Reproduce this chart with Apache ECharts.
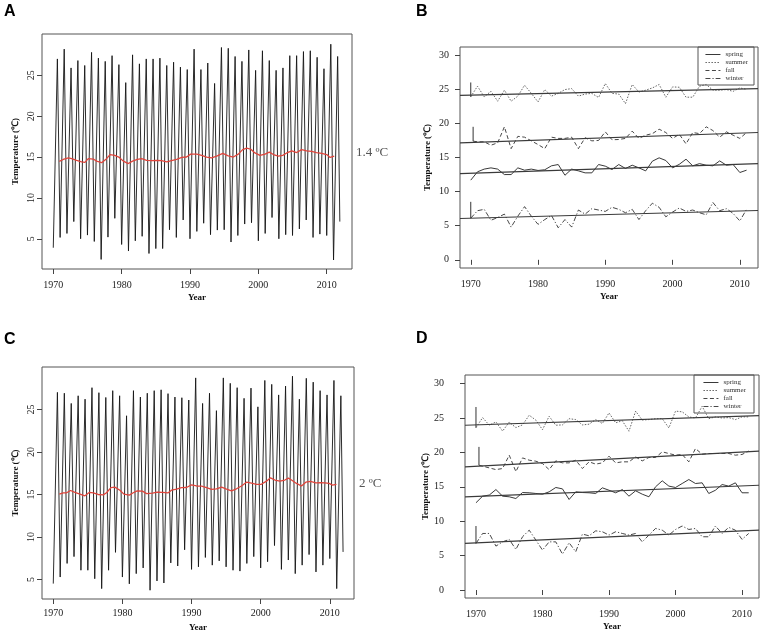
<!DOCTYPE html>
<html>
<head>
<meta charset="utf-8">
<script src="https://cdn.jsdelivr.net/npm/echarts@6/dist/echarts.min.js"></script>
<style>
html,body{margin:0;padding:0;background:#fff;}
#chart{width:763px;height:634px;}
</style>
</head>
<body>
<div id="chart"></div>
<script>
// ---------- DATA ----------
const years = [];
for (let y = 1970; y <= 2011; y++) years.push(y);
const decadeTicks = [1970, 1980, 1990, 2000, 2010];
const tempTicksAC = [5, 10, 15, 20, 25];
const tempTicksBD = [0, 5, 10, 15, 20, 25, 30];
const seasonNames = ['spring', 'summer', 'fall', 'winter'];

// Panel A: monthly series, yearly winter troughs (Jan) and summer peaks
const troughA = [3.9,5.16,5.65,7.1,5.0,5.45,4.67,2.47,5.2,7.5,4.3,3.5,4.75,5.3,3.2,3.8,3.8,6.1,5.16,7.3,5.0,5.9,6.9,5.5,6.06,6.1,4.6,5.4,6.8,6.96,4.75,5.65,7.6,5.0,5.5,5.4,6.2,7.3,5.16,5.57,5.4,2.4];
const peakA = [27.0,28.2,25.9,26.8,26.2,27.8,27.1,26.7,27.4,26.3,24.1,27.5,26.4,27.0,27.0,27.1,26.2,26.6,26.0,25.7,28.2,25.7,26.5,24.0,28.4,28.3,27.3,26.7,28.1,25.6,28.0,26.8,25.6,25.9,27.4,27.4,27.9,28.0,27.2,25.8,28.8,27.3];
const endA = 7.1;
// Panel A: 12-month moving average (red)
const maYearsA = [1970.88,1971.46,1972.2,1972.68,1973.41,1974.15,1974.63,1975.12,1975.85,1976.34,1977.07,1977.8,1978.3,1979.0,1979.66,1980.24,1980.98,1981.6,1982.3,1982.93,1983.66,1984.4,1985.1,1985.85,1986.6,1987.3,1988.05,1988.8,1989.5,1990.1,1991.0,1991.7,1992.44,1993.17,1993.9,1994.8,1995.6,1996.34,1997.07,1997.7,1998.3,1998.9,1999.5,2000.24,2000.98,2001.6,2002.2,2002.93,2003.56,2004.15,2004.9,2005.6,2006.34,2007.07,2007.8,2008.5,2009.27,2010.0,2010.5,2011.1];
const maValsA = [14.47,14.7,14.9,14.8,14.6,14.4,14.35,14.8,14.75,14.5,14.3,14.8,15.3,15.2,14.95,14.5,14.2,14.5,14.7,14.8,14.6,14.55,14.6,14.55,14.4,14.55,14.7,14.95,15.0,15.35,15.35,15.2,15.0,14.9,15.1,15.45,15.15,15.0,15.35,15.9,16.1,15.95,15.5,15.2,15.35,15.6,15.3,15.1,15.2,15.5,15.75,15.55,15.9,15.75,15.7,15.55,15.45,15.3,14.95,15.1];

// Panel C
const troughC = [4.53,5.3,6.9,7.7,6.1,6.1,5.1,3.94,6.1,8.2,5.3,4.5,5.7,6.37,3.75,4.84,4.6,6.96,6.6,8.5,6.2,6.5,7.6,6.7,7.2,6.5,6.1,6.0,6.9,7.7,6.37,7.1,9.0,6.2,7.3,5.7,6.7,7.94,5.9,6.7,7.47,3.94];
const peakC = [27.0,26.9,25.7,26.6,26.2,27.55,26.96,26.4,27.2,26.6,24.25,27.2,26.45,26.9,27.2,27.3,26.85,26.45,26.37,26.1,28.7,25.7,26.9,24.85,28.7,28.06,27.55,26.3,27.5,25.3,28.4,27.94,26.7,27.74,28.9,26.2,28.65,28.2,27.2,26.7,28.4,26.6];
const endC = 8.25;
const maYearsC = [1970.87,1971.45,1971.93,1972.5,1973.13,1973.86,1974.58,1975.2,1975.78,1976.5,1977.23,1977.7,1978.34,1978.9,1979.64,1980.22,1981.0,1981.57,1982.14,1982.9,1983.5,1984.36,1985.04,1985.8,1986.63,1987.1,1987.83,1988.55,1989.28,1990.0,1990.72,1991.45,1992.17,1992.9,1993.6,1994.34,1995.06,1995.78,1996.5,1997.23,1997.95,1998.67,1999.4,2000.1,2000.84,2001.42,2002.05,2002.77,2003.5,2004.0,2004.46,2005.18,2005.9,2006.53,2007.2,2007.98,2008.65,2009.28,2009.9,2010.39,2010.96];
const maValsC = [15.04,15.2,15.2,15.47,15.24,15.04,14.84,15.24,15.2,15.0,14.96,15.2,15.8,15.86,15.5,15.04,14.92,15.2,15.43,15.4,15.1,15.16,15.27,15.24,15.2,15.5,15.63,15.8,15.82,16.14,16.0,15.98,15.8,15.6,15.67,15.86,15.63,15.43,15.67,16.0,16.45,16.33,16.2,16.2,16.57,16.96,16.7,16.57,16.7,16.92,16.7,16.3,16.0,16.45,16.53,16.37,16.4,16.37,16.3,16.1,16.2];

// Panel B: seasonal means
const springB = [11.68,12.9,13.3,13.48,13.3,12.5,12.5,13.48,13.14,13.3,13.1,13.2,13.78,13.97,12.4,13.3,13.04,12.75,12.75,13.97,13.73,13.24,13.97,13.39,13.87,13.48,13.04,14.46,14.95,14.56,13.48,14.0,14.75,13.78,14.1,13.87,13.78,14.5,13.87,13.97,12.8,13.14];
const summerB = [23.9,25.45,23.9,24.7,23.25,24.87,23.25,24.0,25.6,24.4,23.15,24.96,24.0,24.4,24.96,25.1,24.0,24.3,24.4,23.8,25.84,24.4,24.3,22.9,25.7,24.6,24.87,25.2,25.7,23.84,25.35,25.3,23.84,23.84,25.45,25.7,24.87,24.87,24.96,24.7,25.2,25.0];
const fallB = [17.4,17.3,17.3,16.8,17.15,19.5,16.3,18.1,17.98,17.44,16.9,16.3,17.98,17.8,17.8,17.98,16.3,17.9,17.44,17.5,18.76,17.6,17.64,17.8,18.86,17.8,18.27,18.5,19.15,18.66,17.8,18.4,17.0,18.66,18.5,19.5,18.95,17.98,18.76,18.27,17.8,18.66];
const winterB = [6.1,7.2,7.4,5.8,6.2,6.7,4.8,6.4,7.8,6.4,5.2,5.9,6.5,4.7,5.9,4.8,7.3,6.7,7.5,7.3,7.1,7.7,7.4,6.9,7.4,5.9,7.2,8.3,7.7,6.3,7.0,7.6,7.1,7.3,6.9,6.6,8.4,7.2,7.5,6.8,5.7,7.4];
const leadXB = [null, 1970, 1970.35, 1970];
const leadTopB = [null, 26.0, 19.5, 8.5];
const trend1970B = [12.7, 24.14, 17.2, 6.1];
const trend2010B = [14.0, 25.04, 18.57, 7.16];

// Panel D
const springD = [12.68,13.64,13.8,14.6,13.64,13.55,13.3,14.17,14.13,14.03,13.93,14.27,14.9,14.7,13.16,14.27,14.17,14.13,14.03,14.85,14.5,14.13,14.6,13.64,14.42,13.93,13.55,15.0,15.87,15.1,14.9,15.48,16.06,15.48,15.58,14.03,14.5,15.33,15.1,15.58,14.13,14.13];
const summerD = [23.6,25.06,23.95,24.43,23.1,24.4,23.6,24.0,25.4,24.7,23.3,25.25,23.95,24.0,24.9,24.77,24.0,24.1,24.77,24.2,25.74,24.3,24.6,23.08,26.0,24.7,24.77,24.9,24.9,23.56,26.0,25.9,25.16,25.0,26.7,24.9,25.16,25.0,25.06,24.77,25.16,25.16];
const fallD = [18.14,18.0,17.75,17.5,17.66,19.6,17.2,19.2,18.87,18.72,18.38,17.5,18.77,18.48,18.48,18.87,17.66,18.63,18.3,18.48,19.45,18.48,18.63,18.63,19.35,18.77,19.26,19.26,20.08,19.84,19.6,19.7,18.63,20.56,19.74,19.84,19.84,19.84,19.84,19.6,19.7,20.2];
const winterD = [6.77,8.22,8.22,6.38,7.0,7.35,5.9,7.74,8.7,7.26,5.8,7.0,7.0,5.22,6.87,5.56,8.13,7.88,8.6,8.47,7.98,8.47,8.22,7.98,8.22,7.0,7.98,8.95,8.7,7.98,8.8,9.3,8.8,8.95,7.74,7.74,9.3,8.22,9.1,8.7,7.35,8.22];
const leadXD = [null, 1970, 1970.45, 1970];
const leadTopD = [null, 26.6, 20.8, 9.3];
const trend1970D = [13.6, 24.0, 17.98, 6.84];
const trend2010D = [15.13, 25.27, 20.06, 8.58];

const changeLabels = ['1.4 \u00baC', '2 \u00baC'];

// ---------- BUILD ----------
const PEAK_OFFSET = 0.6, LAST_T = 2011.92;
function zigzag(tr, pk, end) {
  const d = [];
  for (let i = 0; i < tr.length; i++) {
    d.push([years[i], tr[i]]);
    d.push([years[i] + PEAK_OFFSET, pk[i]]);
  }
  d.push([LAST_T, end]);
  return d;
}
function pairs(xs, vs) { return xs.map((x, i) => [x, vs[i]]); }
function seasonal(vals, lx) {
  const d = [[lx != null ? lx : years[0], vals[0]]];
  for (let i = 1; i < vals.length; i++) d.push([years[i], vals[i]]);
  return d;
}
function trendLine(v70, v10, xmin, xmax) {
  const s = (v10 - v70) / 40;
  return [[xmin, v70 + s * (xmin - 1970)], [xmax, v70 + s * (xmax - 1970)]];
}

const SERIF = "'Liberation Serif','Times New Roman',serif";
const xr = { A: [1968.35, 2013.7], B: [1968.4, 2012.7], C: [1968.37, 2013.5], D: [1968.35, 2012.55] };
const yr = { A: [1.3, 30.05], B: [-1.2, 31.2], C: [2.72, 29.98], D: [-1.16, 31.25] };

const grids = [
  { left: 42, top: 34, width: 310, height: 235 },
  { left: 460, top: 47, width: 298, height: 221 },
  { left: 42, top: 367, width: 312, height: 232 },
  { left: 465, top: 375, width: 294, height: 223 }
].map(g => Object.assign(g, { show: true, borderColor: '#555', borderWidth: 1, backgroundColor: 'transparent' }));

const plain = v => String(v);
function xAxis(idx, range, margin) {
  return {
    type: 'value', gridIndex: idx, min: range[0], max: range[1],
    axisLine: { show: false }, splitLine: { show: false },
    axisTick: { show: true, inside: false, length: 5, customValues: decadeTicks, lineStyle: { color: '#444' } },
    axisLabel: { customValues: decadeTicks, formatter: plain, margin: margin, fontFamily: SERIF, fontSize: 10, color: '#222' },
    name: 'Year', nameLocation: 'middle', nameGap: 24,
    nameTextStyle: { fontFamily: SERIF, fontWeight: 'bold', fontSize: 9, color: '#111' }
  };
}
function yAxis(idx, range, ticks, rotate, margin, gap) {
  return {
    type: 'value', gridIndex: idx, min: range[0], max: range[1],
    axisLine: { show: false }, splitLine: { show: false },
    axisTick: { show: true, inside: false, length: 5, customValues: ticks, lineStyle: { color: '#444' } },
    axisLabel: { customValues: ticks, formatter: plain, rotate: rotate, margin: margin, fontFamily: SERIF, fontSize: 10, color: '#222' },
    name: 'Temperature (\u2103)', nameLocation: 'middle', nameGap: gap, nameRotate: 90,
    nameTextStyle: { fontFamily: SERIF, fontWeight: 'bold', fontSize: 9, color: '#111' }
  };
}

const styles = [
  { type: 'solid', color: '#222' },
  { type: [1.5, 1.5], color: '#555' },
  { type: [4, 2.5], color: '#333' },
  { type: [5, 2, 1.2, 2], color: '#333' }
];

const series = [];
series.push({ type: 'line', xAxisIndex: 0, yAxisIndex: 0, symbol: 'none', data: zigzag(troughA, peakA, endA),
  lineStyle: { color: '#151515', width: 0.9 }, z: 2 });
series.push({ type: 'line', xAxisIndex: 0, yAxisIndex: 0, symbol: 'none', data: pairs(maYearsA, maValsA),
  lineStyle: { color: '#e0453c', width: 1.3 }, z: 3 });
series.push({ type: 'line', xAxisIndex: 2, yAxisIndex: 2, symbol: 'none', data: zigzag(troughC, peakC, endC),
  lineStyle: { color: '#151515', width: 0.9 }, z: 2 });
series.push({ type: 'line', xAxisIndex: 2, yAxisIndex: 2, symbol: 'none', data: pairs(maYearsC, maValsC),
  lineStyle: { color: '#e0453c', width: 1.3 }, z: 3 });

const setsB = [springB, summerB, fallB, winterB];
const setsD = [springD, summerD, fallD, winterD];
[[1, setsB, leadXB, leadTopB, trend1970B, trend2010B, xr.B], [3, setsD, leadXD, leadTopD, trend1970D, trend2010D, xr.D]].forEach(p => {
  const [ax, sets, lx, lt, t70, t10, rng] = p;
  sets.forEach((vals, k) => {
    series.push({ type: 'line', name: seasonNames[k], xAxisIndex: ax, yAxisIndex: ax, symbol: 'none',
      data: seasonal(vals, lx[k]),
      lineStyle: { color: styles[k].color, type: styles[k].type, width: 0.9 },
      itemStyle: { color: styles[k].color }, z: 2 });
    if (lx[k] != null) {
      // initial vertical stroke at the start of the series
      series.push({ type: 'line', xAxisIndex: ax, yAxisIndex: ax, symbol: 'none', silent: true,
        data: [[lx[k], lt[k]], [lx[k], vals[0]]],
        lineStyle: { color: '#333', width: 1 }, z: 2 });
    }
  });
  sets.forEach((vals, k) => {
    series.push({ type: 'line', xAxisIndex: ax, yAxisIndex: ax, symbol: 'none',
      data: trendLine(t70[k], t10[k], rng[0], rng[1]),
      lineStyle: { color: '#3a3a3a', width: 1.2 }, z: 3, silent: true });
  });
});

function legendAt(left, top, pad) {
  return {
    show: true, left: left, top: top, orient: 'vertical', data: seasonNames, selectedMode: false,
    itemWidth: 15, itemHeight: 8, itemGap: 1, padding: pad,
    itemStyle: { opacity: 0 },
    lineStyle: { width: 0.9 },
    borderColor: '#555', borderWidth: 1, backgroundColor: 'transparent',
    textStyle: { fontFamily: SERIF, fontSize: 7, color: '#333' }
  };
}

const letter = (t, x, y) => ({ type: 'text', left: x, top: y,
  style: { text: t, font: 'bold 16px Arial, "Liberation Sans", sans-serif', fill: '#000' } });
const note = (t, x, y) => ({ type: 'text', left: x, top: y,
  style: { text: t, font: '13px ' + SERIF, fill: '#555' } });

const option = {
  animation: false,
  backgroundColor: '#fff',
  grid: grids,
  xAxis: [xAxis(0, xr.A, 11), xAxis(1, xr.B, 11), xAxis(2, xr.C, 9), xAxis(3, xr.D, 11)],
  yAxis: [
    yAxis(0, yr.A, tempTicksAC, 90, 6, 22),
    yAxis(1, yr.B, tempTicksBD, 0, 11, 28),
    yAxis(2, yr.C, tempTicksAC, 90, 6, 22),
    yAxis(3, yr.D, tempTicksBD, 0, 21, 33)
  ],
  legend: [legendAt(698, 47, [4, 6, 3, 7]), legendAt(694, 375, [4, 8, 3, 9])],
  series: series,
  graphic: [
    letter('A', 4, 4), letter('B', 416, 4), letter('C', 4, 332), letter('D', 416, 331),
    note(changeLabels[0], 356, 146), note(changeLabels[1], 359, 477)
  ]
};

const chart = echarts.init(document.getElementById('chart'), null, { renderer: 'canvas' });
chart.setOption(option);
</script>
</body>
</html>
